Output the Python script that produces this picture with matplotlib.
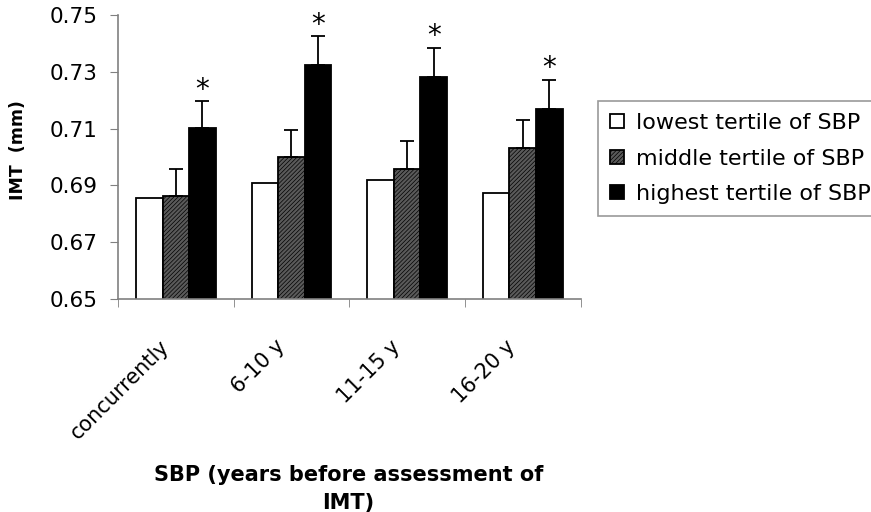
import matplotlib.pyplot as plt
import matplotlib.transforms as mtransforms
import numpy as np

plt.rcParams['hatch.linewidth'] = 0.5
plt.rcParams['font.family'] = 'DejaVu Sans'

categories = ['concurrently', '6-10 y', '11-15 y', '16-20 y']
series = ['lowest tertile of SBP', 'middle tertile of SBP', 'highest tertile of SBP']
lowest = [0.6856, 0.6908, 0.6919, 0.6874]
middle = [0.6863, 0.7000, 0.6958, 0.7033]
highest = [0.7102, 0.7324, 0.7283, 0.7170]
middle_err = [0.0095, 0.0096, 0.0097, 0.0097]
highest_err = [0.0096, 0.0100, 0.0102, 0.0102]
yticks = [0.65, 0.67, 0.69, 0.71, 0.73, 0.75]

fig = plt.figure(figsize=(8.71, 5.12), dpi=100)
ax = fig.add_axes([0.1355, 0.416, 0.531, 0.555])

x = np.arange(len(categories))
w = 0.23

ax.bar(x - w, lowest, w, color='white', edgecolor='black', linewidth=1.3,
       label=series[0])
ax.bar(x, middle, w, color='#5a5a5a', edgecolor='black', hatch='////////', linewidth=1.3,
       label=series[1])
ax.bar(x + w, highest, w, color='black', edgecolor='black', linewidth=1.3, label=series[2])

zeros = np.zeros(len(x))
ax.errorbar(x, middle, yerr=[zeros, middle_err], fmt='none', ecolor='black',
            elinewidth=1.3, capsize=4.7, capthick=1.3)
ax.errorbar(x + w, highest, yerr=[zeros, highest_err], fmt='none', ecolor='black',
            elinewidth=1.3, capsize=4.7, capthick=1.3)

# significance markers above the highest tertile
for xi, h, e in zip(x + w, highest, highest_err):
    ax.text(xi, h + e - 0.0010, '*', ha='center', va='bottom', fontsize=20)

ax.set_ylim(0.65, 0.75)
ax.set_xlim(-0.5, len(categories) - 0.5)
ax.set_yticks(yticks)
ax.set_yticklabels([f'{v:.2f}' for v in yticks], fontsize=15.5)
ax.tick_params(axis='y', direction='out', length=6, color='#808080', pad=9)

ax.set_xticks(x)
ax.set_xticklabels(categories, rotation=45, ha='right', va='center',
                   rotation_mode='anchor', fontsize=15)
ax.tick_params(axis='x', which='major', length=0, pad=32)
shift = mtransforms.ScaledTranslation(-10 / 100, 0, fig.dpi_scale_trans)
for lbl in ax.get_xticklabels():
    lbl.set_transform(lbl.get_transform() + shift)
ax.set_xticks(np.arange(-0.5, len(categories)), minor=True)
ax.tick_params(axis='x', which='minor', direction='out', length=6, color='#808080')

for s in ['top', 'right']:
    ax.spines[s].set_visible(False)
for s in ['left', 'bottom']:
    ax.spines[s].set_color('#808080')
    ax.spines[s].set_linewidth(1.2)

fig.text(0.021, 0.707, 'IMT  (mm)', rotation=90, ha='center', va='center',
         fontsize=12.5, fontweight='black')
fig.text(0.400, 0.044, 'SBP (years before assessment of\nIMT)', ha='center',
         va='center', fontsize=15, fontweight='black', linespacing=1.5)

leg = fig.legend(loc='upper left', bbox_to_anchor=(0.6866, 0.803), frameon=True,
                 fancybox=False, edgecolor='#808080', prop={'size': 16},
                 handlelength=0.6, handleheight=0.6, handletextpad=0.55,
                 borderpad=0.55, labelspacing=0.7, borderaxespad=0)
leg.get_frame().set_linewidth(1.2)

fig.savefig('out.png', dpi=100)
